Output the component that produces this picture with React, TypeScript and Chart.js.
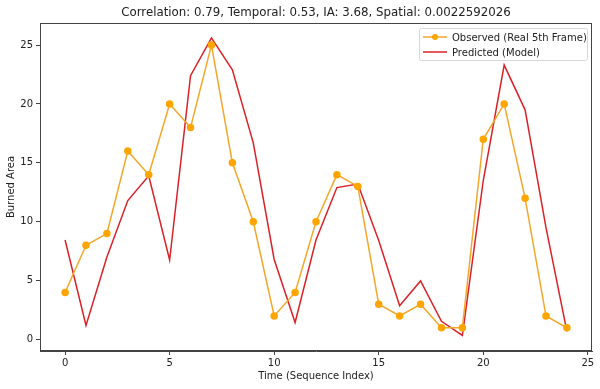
import React, { useEffect, useRef } from "react";
import { Chart, registerables } from "chart.js";

Chart.register(...registerables);

const titleText = "Correlation: 0.79, Temporal: 0.53, IA: 3.68, Spatial: 0.0022592026";
const timeIndex = [0, 1, 2, 3, 4, 5, 6, 7, 8, 9, 10, 11, 12, 13, 14, 15, 16, 17, 18, 19, 20, 21, 22, 23, 24];
const observed = [4, 8, 9, 16, 14, 20, 18, 25, 15, 10, 2, 4, 10, 14, 13, 3, 2, 3, 1, 1, 17, 20, 12, 2, 1];
const predicted = [8.45, 1.2, 7.0, 11.8, 13.9, 6.75, 22.4, 25.6, 22.9, 16.7, 6.8, 1.45, 8.45, 12.9, 13.2, 8.4, 2.87, 4.98, 1.55, 0.35, 13.5, 23.3, 19.5, 9.5, 0.7];
const xTicks = [0, 5, 10, 15, 20, 25];
const yTicks = [0, 5, 10, 15, 20, 25];
const seriesLabels = ["Observed (Real 5th Frame)", "Predicted (Model)"];

const FONT = "'DejaVu Sans', sans-serif";
const ORANGE = "#f2a72a";
const ORANGE_PT = "#ffa500";
const RED = "#d92228";

const framePlugin = {
  id: "frame",
  afterDatasetsDraw(chart: any) {
    const { ctx, chartArea: a } = chart;
    ctx.save();
    ctx.strokeStyle = "#444";
    ctx.lineWidth = 1;
    ctx.strokeRect(a.left + 0.5, a.top + 0.5, a.right - a.left - 1, a.bottom - a.top - 1);
    // title centred over the axes
    ctx.fillStyle = "#222";
    ctx.font = `11.8px ${FONT}`;
    ctx.textAlign = "center";
    ctx.textBaseline = "middle";
    ctx.fillText(titleText, (a.left + a.right) / 2, 13);
    ctx.textAlign = "left";
    // legend
    const w = 168, h = 32;
    const x0 = a.right - w - 5, y0 = a.top + 5;
    ctx.fillStyle = "rgba(255,255,255,0.8)";
    ctx.strokeStyle = "#d8d8d8";
    ctx.beginPath();
    ctx.roundRect(x0 + 0.5, y0 + 0.5, w, h, 2);
    ctx.fill();
    ctx.stroke();
    const rows = [
      { label: seriesLabels[0], color: ORANGE, marker: true },
      { label: seriesLabels[1], color: RED, marker: false },
    ];
    ctx.font = `10px ${FONT}`;
    ctx.textBaseline = "middle";
    rows.forEach((r, i) => {
      const y = y0 + 9 + i * 15;
      ctx.strokeStyle = r.color;
      ctx.lineWidth = 1.5;
      ctx.beginPath();
      ctx.moveTo(x0 + 4, y);
      ctx.lineTo(x0 + 28, y);
      ctx.stroke();
      if (r.marker) {
        ctx.fillStyle = ORANGE_PT;
        ctx.beginPath();
        ctx.arc(x0 + 16, y, 3, 0, Math.PI * 2);
        ctx.fill();
      }
      ctx.fillStyle = "#222";
      ctx.fillText(r.label, x0 + 33, y + 1);
    });
    ctx.restore();
  },
};

export default function App() {
  const ref = useRef<HTMLCanvasElement>(null);
  useEffect(() => {
    document.body.style.margin = "0";
    const chart = new Chart(ref.current!, {
      type: "line",
      data: {
        datasets: [
          {
            label: seriesLabels[0],
            data: timeIndex.map((t, i) => ({ x: t, y: observed[i] })),
            borderColor: ORANGE,
            backgroundColor: ORANGE_PT,
            pointBackgroundColor: ORANGE_PT,
            pointBorderColor: ORANGE_PT,
            pointRadius: 3,
            borderWidth: 1.5,
            tension: 0,
          },
          {
            label: seriesLabels[1],
            data: timeIndex.map((t, i) => ({ x: t, y: predicted[i] })),
            borderColor: RED,
            backgroundColor: RED,
            pointRadius: 0,
            borderWidth: 1.5,
            tension: 0,
          },
        ],
      },
      options: {
        animation: false,
        responsive: false,
        layout: { padding: { top: 23, right: 8, left: 0, bottom: 0 } },
        plugins: {
          legend: { display: false },
          tooltip: { enabled: false },
          title: { display: false },
        },
        scales: {
          x: {
            type: "linear",
            min: -1.2,
            max: 25.2,
            afterBuildTicks: (s: any) => {
              s.ticks = xTicks.map((v) => ({ value: v }));
            },
            afterFit: (s: any) => {
              s.height = 38;
            },
            grid: { drawOnChartArea: false, drawTicks: true, tickLength: 4, color: "#444" },
            border: { color: "#444" },
            ticks: { color: "#222", font: { family: FONT, size: 10 }, padding: 2, maxRotation: 0 },
            title: { display: true, text: "Time (Sequence Index)", color: "#222", font: { family: FONT, size: 10 }, padding: 7 },
          },
          y: {
            type: "linear",
            min: -0.97,
            max: 26.87,
            afterBuildTicks: (s: any) => {
              s.ticks = yTicks.map((v) => ({ value: v }));
            },
            afterFit: (s: any) => {
              s.width = 40;
            },
            grid: { drawOnChartArea: false, drawTicks: true, tickLength: 4, color: "#444" },
            border: { color: "#444" },
            ticks: { color: "#222", font: { family: FONT, size: 10 }, padding: 3 },
            title: { display: true, text: "Burned Area", color: "#222", font: { family: FONT, size: 10 }, padding: 5 },
          },
        },
      },
      plugins: [framePlugin],
    });
    return () => chart.destroy();
  }, []);
  return (
    <div style={{ width: 600, height: 389, background: "#fff" }}>
      <canvas ref={ref} width={600} height={389} />
    </div>
  );
}
